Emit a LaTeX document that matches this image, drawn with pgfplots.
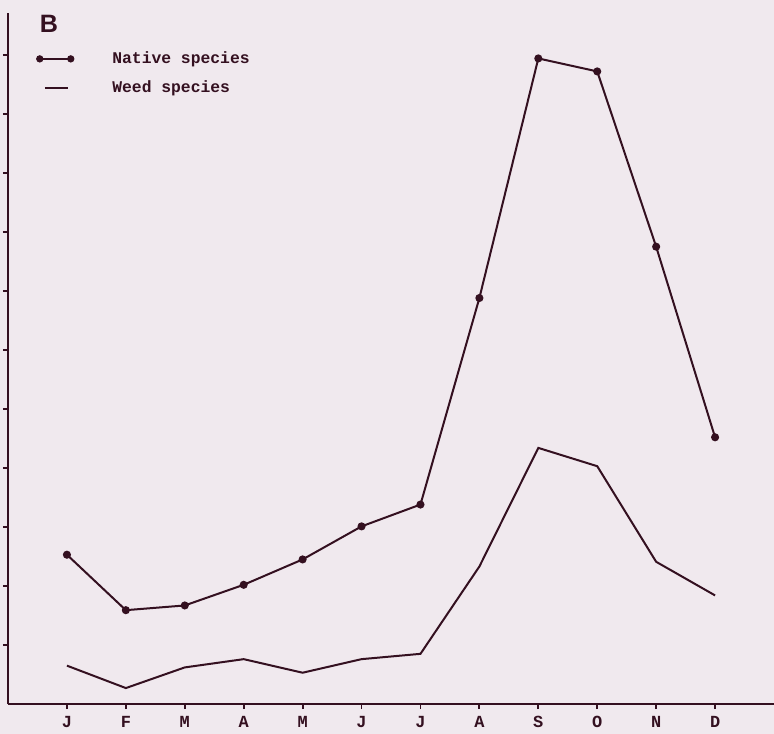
\documentclass[border=0pt]{standalone}
\usepackage{fontspec}
\setmainfont{Liberation Serif}
\setsansfont{Liberation Sans}
\setmonofont{Liberation Mono}
\usepackage{pgfplots}
\pgfplotsset{compat=1.18}
\usetikzlibrary{backgrounds}
\definecolor{bg}{RGB}{240,233,238}
\definecolor{ink}{RGB}{52,16,32}
\begin{document}
\begin{tikzpicture}
\begin{axis}[
  name=ax,
  scale only axis,
  width=383bp, height=345.5bp,
  xmin=0, xmax=13, ymin=0, ymax=11.71,
  axis lines=left,
  axis line style={-, line width=1bp, ink},
  xtick={1,...,12},
  xticklabels={J,F,M,A,M,J,J,A,S,O,N,D},
  ytick={1,...,11},
  yticklabels={},
  tick align=outside,
  major tick length=2.5bp,
  tick style={line width=0.9bp, ink},
  xticklabel style={font=\ttfamily\bfseries\fontsize{8.5}{10}\selectfont, text=ink},
  legend cell align=left,
  legend style={draw=none, fill=none, at={(axis cs:0.37,11.2)}, anchor=north west,
    font=\ttfamily\bfseries\fontsize{8.2}{10}\selectfont, text=ink, row sep=3bp, column sep=17bp},
]
\addplot[ink, line width=1bp, mark=*, mark size=1.5bp,
  legend image code/.code={\draw[ink, line width=0.8bp] (0bp,0bp) -- (15.5bp,0bp);
    \fill[ink] (0bp,0bp) circle (1.3bp); \fill[ink] (15.5bp,0bp) circle (1.3bp);}]
coordinates {(1,2.53) (2,1.59) (3,1.67) (4,2.02) (5,2.45) (6,3.01) (7,3.38) (8,6.88) (9,10.94) (10,10.72) (11,7.75) (12,4.52)};
\addlegendentry{Native species}
\addplot[ink, line width=1bp, mark=none,
  legend image code/.code={\draw[ink, line width=0.9bp] (2.5bp,0bp) -- (14bp,0bp);}]
coordinates {(1,0.65) (2,0.27) (3,0.62) (4,0.76) (5,0.53) (6,0.76) (7,0.85) (8,2.33) (9,4.34) (10,4.03) (11,2.41) (12,1.84)};
\addlegendentry{Weed species}
\node[font=\sffamily\bfseries\fontsize{12.6}{14}\selectfont, text=ink] at (axis cs:0.695,11.53) {B};
\end{axis}
\begin{scope}[on background layer]
\fill[bg] ([xshift=-4bp,yshift=-15bp]ax.south west) rectangle ([yshift=6.5bp]ax.north east);
\end{scope}
\pgfresetboundingbox
\path ([xshift=-4bp,yshift=-15bp]ax.south west) rectangle ([yshift=6.5bp]ax.north east);
\end{tikzpicture}
\end{document}
